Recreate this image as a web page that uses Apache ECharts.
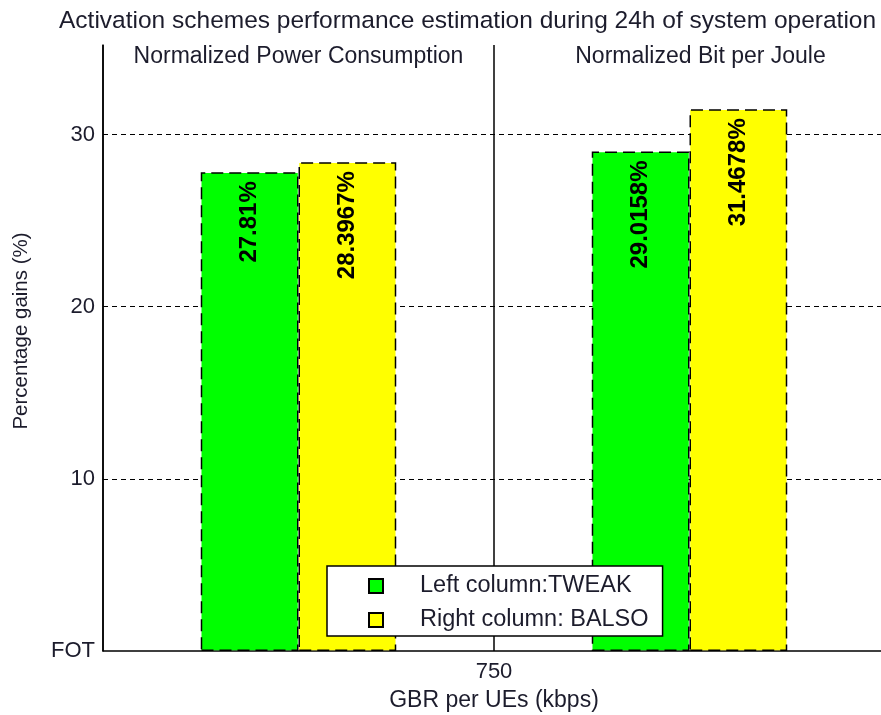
<!DOCTYPE html>
<html>
<head>
<meta charset="utf-8">
<script src="https://cdn.jsdelivr.net/npm/echarts@6/dist/echarts.min.js"></script>
<style>
html,body{margin:0;padding:0;background:#fff;}
#chart{width:881px;height:715px;}
</style>
</head>
<body>
<div id="chart"></div>
<script>
const titleText = 'Activation schemes performance estimation during 24h of system operation';
const groups = ['Normalized Power Consumption', 'Normalized Bit per Joule'];
const seriesNames = ['Left column:TWEAK', 'Right column: BALSO'];
const tweak = [27.81, 29.0158];
const balso = [28.3967, 31.4678];
const xTickLabels = ['750'];
const xAxisName = 'GBR per UEs (kbps)';
const yAxisName = 'Percentage gains (%)';
const yTickValues = [0, 10, 20, 30];
const yTickLabels = ['FOT', '10', '20', '30'];
const gridValues = [10, 20, 30];

const FONT = 'Liberation Sans, Arial, sans-serif';
const TXT = '#1c1c2c';

const chart = echarts.init(document.getElementById('chart'), null, {renderer: 'canvas'});

const barLabel = {
  show: true,
  position: 'insideTop',
  rotate: 90,
  align: 'right',
  verticalAlign: 'middle',
  distance: 9,
  fontFamily: FONT,
  fontSize: 24,
  fontWeight: 'bold',
  color: '#000',
  formatter: p => p.value + '%'
};
const barBorder = {borderColor: '#000', borderWidth: 1.5, borderType: [12, 6]};

chart.setOption({
  animation: false,
  backgroundColor: '#fff',
  title: {
    text: titleText,
    left: 54,
    top: 4,
    textStyle: {fontFamily: FONT, fontSize: 24.5, fontWeight: 'normal', color: TXT}
  },
  grid: {left: 103, top: 45, right: -4, bottom: 64, containLabel: false, outerBoundsMode: 'none'},
  legend: {
    orient: 'vertical',
    left: 327,
    top: 566,
    padding: [8, 14, 4, 41],
    itemGap: 10,
    itemWidth: 14,
    itemHeight: 14,
    icon: 'rect',
    backgroundColor: '#fff',
    borderColor: '#000',
    borderWidth: 1.5,
    borderRadius: 0,
    data: seriesNames,
    textStyle: {fontFamily: FONT, fontSize: 23.5, color: TXT, lineHeight: 24, padding: [0, 0, 0, 32]}
  },
  xAxis: [
    {
      type: 'category',
      data: groups,
      position: 'bottom',
      axisLine: {show: true, lineStyle: {color: '#000', width: 1.5}},
      axisTick: {show: false},
      axisLabel: {show: false},
      splitLine: {show: true, interval: 0, lineStyle: {color: '#000', width: 1.5, type: 'solid'}}
    },
    {
      type: 'category',
      data: xTickLabels,
      position: 'bottom',
      axisLine: {show: false},
      axisTick: {show: false},
      axisLabel: {show: true, margin: 10, fontFamily: FONT, fontSize: 22, color: TXT},
      splitLine: {show: false},
      name: xAxisName,
      nameLocation: 'middle',
      nameGap: 38,
      nameTextStyle: {fontFamily: FONT, fontSize: 23, color: TXT}
    },
    {
      type: 'category',
      data: [groups[0], {value: groups[1], textStyle: {padding: [0, 0, 0, 22]}}],
      position: 'top',
      axisLine: {show: false},
      axisTick: {show: false},
      axisLabel: {show: true, interval: 0, hideOverlap: false, inside: true, margin: 0, fontFamily: FONT, fontSize: 23, color: TXT},
      splitLine: {show: false}
    }
  ],
  yAxis: {
    type: 'value',
    min: 0,
    max: 35.2,
    interval: 10,
    axisLine: {show: true, lineStyle: {color: '#000', width: 1.5}},
    axisTick: {show: false},
    splitLine: {show: false},
    axisLabel: {
      fontFamily: FONT, fontSize: 22, color: TXT, margin: 8,
      showMaxLabel: false,
      formatter: v => {
        const i = yTickValues.indexOf(v);
        return i >= 0 ? yTickLabels[i] : '';
      }
    },
    name: yAxisName,
    nameLocation: 'middle',
    nameGap: 71,
    nameTextStyle: {fontFamily: FONT, fontSize: 20.5, color: TXT, padding: [0, 0, 0, 34]}
  },
  series: [
    {
      name: seriesNames[0],
      type: 'bar',
      xAxisIndex: 0,
      data: tweak,
      barWidth: '25%',
      barGap: '0%',
      itemStyle: Object.assign({color: '#00ff00'}, barBorder),
      label: barLabel,
      z: 3,
      markLine: {
        silent: true,
        symbol: 'none',
        z: 1,
        label: {show: false},
        lineStyle: {color: '#000', width: 1, type: [5, 4]},
        data: gridValues.map(v => ({yAxis: v}))
      }
    },
    {
      name: seriesNames[1],
      type: 'bar',
      xAxisIndex: 0,
      data: balso,
      barWidth: '25%',
      barGap: '0%',
      itemStyle: Object.assign({color: '#ffff00'}, barBorder),
      label: barLabel,
      z: 3
    }
  ]
});
</script>
</body>
</html>
